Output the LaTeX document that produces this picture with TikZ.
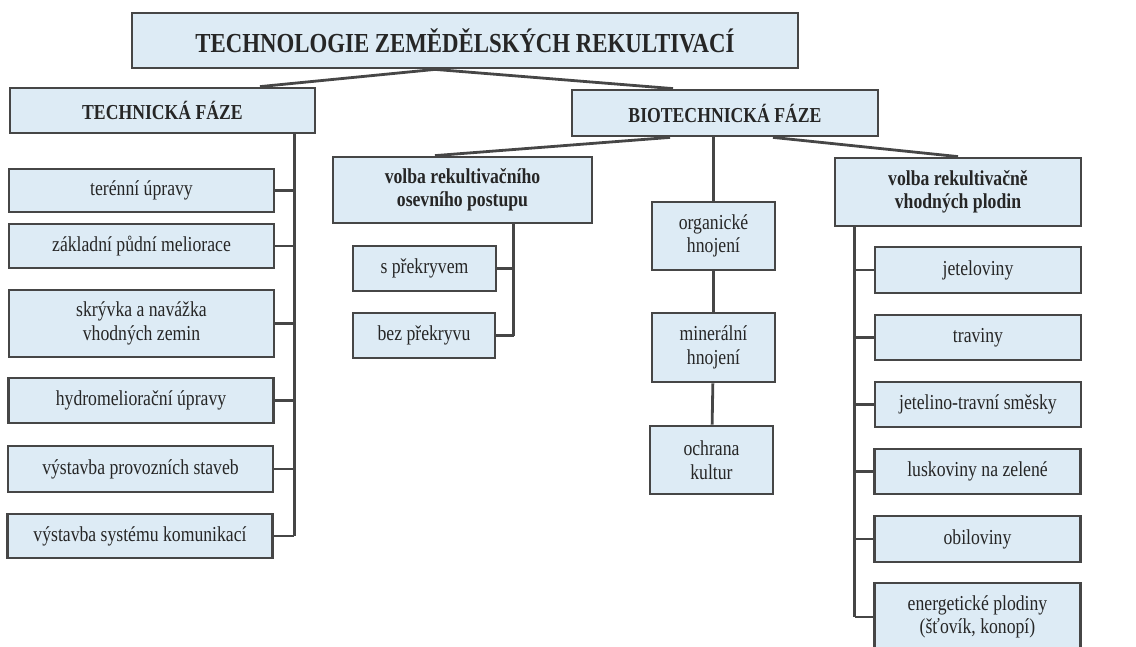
\documentclass[tikz,border=0pt]{standalone}
\usepackage{fontspec}
\setmainfont{Liberation Serif}[FakeStretch=0.83]
\usepackage{tikz}
\usetikzlibrary{calc,positioning}
\definecolor{boxfill}{RGB}{221,235,245}
\definecolor{boxline}{RGB}{70,70,70}
\newcommand{\itemfont}{\fontsize{21.3}{23.5}\selectfont}
\newcommand{\headfont}{\fontsize{21.3}{23.5}\selectfont\bfseries}

\begin{document}
\begin{tikzpicture}[x=1pt,y=-1pt,color=boxline,line width=2.8pt]
            \useasboundingbox (0,0) rectangle (1136,646);
            \begin{scope}[shape=rectangle,inner sep=0pt,align=center]
            \tikzstyle{every node}=[draw,fill=boxfill,text=black!85,font=\itemfont]
            
            \node[minimum width=666,minimum height=55,font=\fontsize{27.5}{30}\selectfont\bfseries] (title) at (465,40.5) {TECHNOLOGIE ZEMĚDĚLSKÝCH REKULTIVACÍ};
            \node[minimum width=305,minimum height=45,font=\headfont] (tech) at (162.5,110.5) {TECHNICKÁ FÁZE};
            \node[minimum width=306,minimum height=46,font=\headfont] (biotech) at (725,113) {BIOTECHNICKÁ FÁZE};
            
            % technicka faze
            \node[minimum width=265,minimum height=43] (t_1) at (141.5,190.5) {terénní úpravy};
            \node[minimum width=265,minimum height=44] (t_2) at (141.5,246) {základní půdní meliorace};
            \node[minimum width=265,minimum height=67] (t_3) at (141.5,323.5) {skrývka a navážka\\vhodných zemin};
            \node[minimum width=265,minimum height=45] (t_4) at (141,400.5) {hydromeliorační úpravy};
            \node[minimum width=265,minimum height=46] (t_5) at (140.5,469) {výstavba provozních staveb};
            \node[minimum width=265,minimum height=44] (t_6) at (140,536) {výstavba systému komunikací};
            
            % osevni postup
            \node[minimum width=259,minimum height=66,font=\headfont] (osev) at (462.5,190) {volba rekultivačního\\osevního postupu};
            \node[minimum width=143,minimum height=45] (o_1) at (424.5,268.5) {s překryvem};
            \node[minimum width=142,minimum height=45] (o_2) at (424,335.5) {bez překryvu};
            
            % hnojeni
            \node[minimum width=123,minimum height=68] (h_1) at (713.5,236) {organické\\hnojení};
            \node[minimum width=123,minimum height=69] (h_2) at (713.5,347.5) {minerální\\hnojení};
            \node[minimum width=123,minimum height=68] (h_3) at (711.5,460) {ochrana\\kultur};
            
            % plodiny
            \node[minimum width=246,minimum height=68,font=\headfont] (plod) at (958,192) {volba rekultivačně\\vhodných plodin};
            \node[minimum width=206,minimum height=46] (p_1) at (978,270) {jeteloviny};
            \node[minimum width=206,minimum height=45] (p_2) at (978,337.5) {traviny};
            \node[minimum width=206,minimum height=45] (p_3) at (978,404.5) {jetelino-travní směsky};
            \node[minimum width=206,minimum height=45] (p_4) at (977.5,471.5) {luskoviny na zelené};
            \node[minimum width=206,minimum height=46] (p_5) at (977.5,539) {obiloviny};
            \node[minimum width=206,minimum height=68] (p_6) at (977.5,617) {energetické plodiny\\(šťovík, konopí)};
            \end{scope}
            
            \draw [-] ($(title.south)+(-30,0)$) -- ($(tech.north)+(97.5,0)$);
            \draw [-] ($(title.south)+(-30,0)$) -- ($(biotech.north)+(-52,0)$);
            
            \draw [-] ($(biotech.south)+(-55,0)$) -- ($(osev.north)+(-27.5,0)$);
            \draw [-] ($(biotech.south)+(48,0)$) -- (plod.north);
            \draw [-] (h_1.north) -- (h_1.north |- biotech.south);
            \draw [-] (h_1) -- (h_2);
            \draw [-] (h_2) -- (h_3);
            
            \coordinate (tcol) at ($(tech.south east)+(-22,0)$);
            \draw [-] (tcol) -- (tcol |- t_6.east);
            \foreach \i in {1,...,6}
                \draw [-] (t_\i.east) -- (t_\i.east -| tcol);
            
            \coordinate (ocol) at ($(osev.south west)+(182,0)$);
            \draw [-] (ocol) -- (ocol |- o_2.east);
            \foreach \i in {1,2}
                \draw [-] (o_\i.east) -- (o_\i.east -| ocol);
            
            \coordinate (pcol) at ($(plod.south west)+(21,0)$);
            \draw [-] (pcol) -- (pcol |- p_6.west);
            \foreach \i in {1,...,6}
                \draw [-] (p_\i.west) -- (p_\i.west -| pcol);
        \end{tikzpicture}
\end{document}
